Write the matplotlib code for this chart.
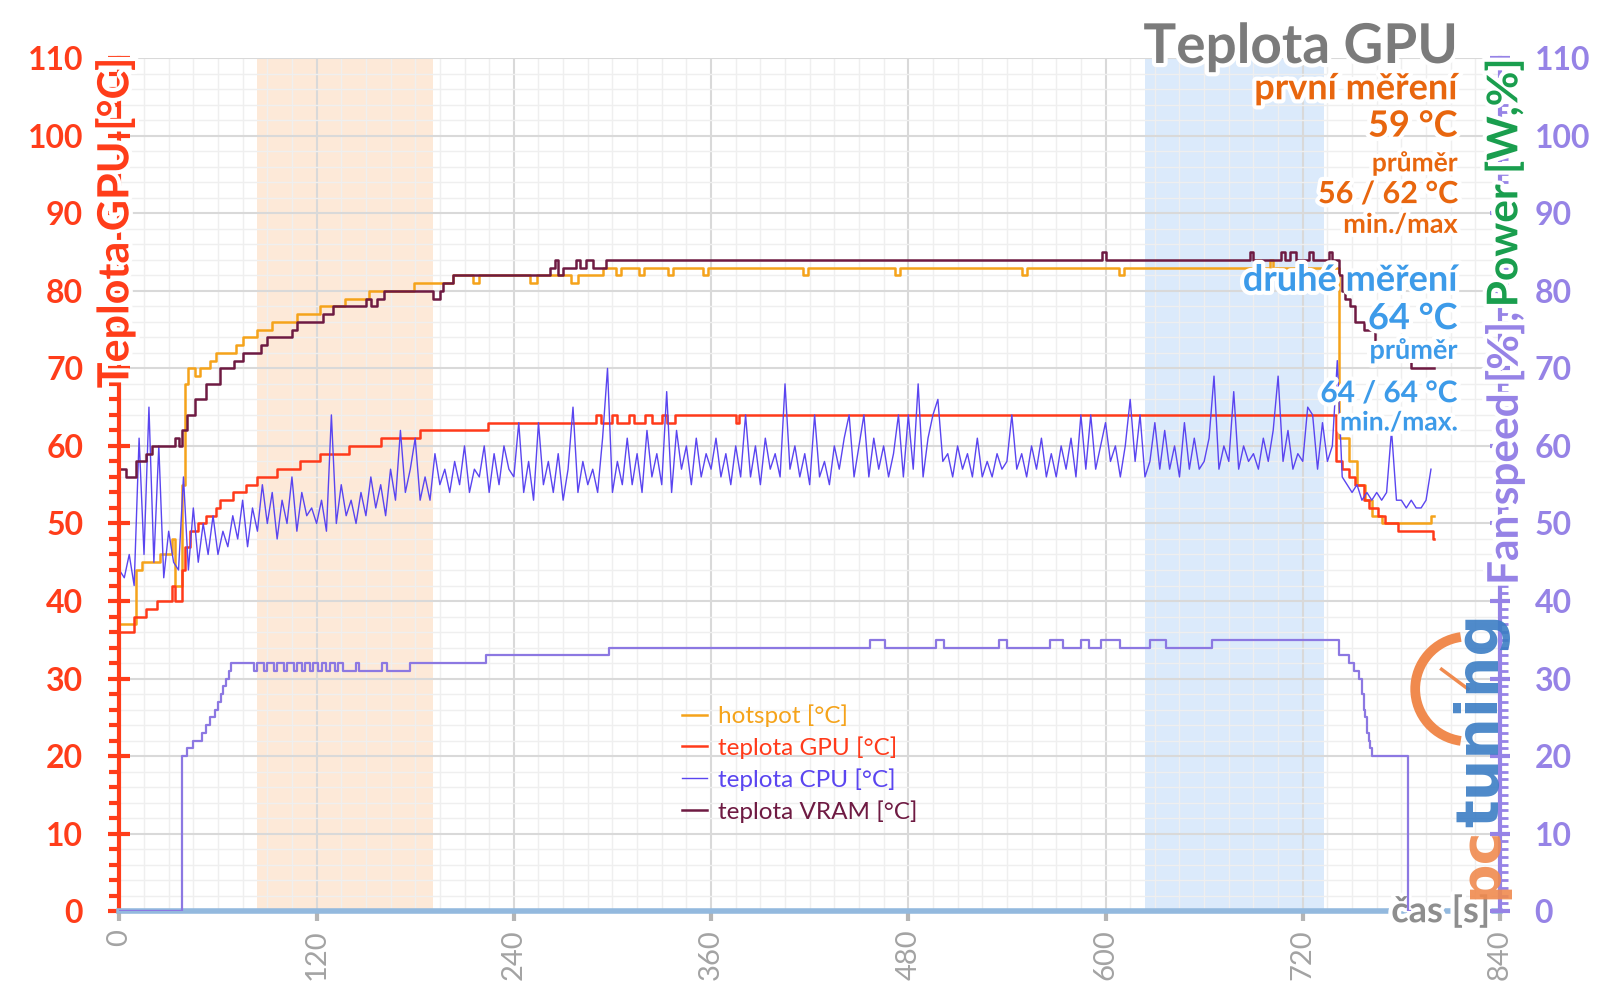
import matplotlib
matplotlib.use("Agg")
import matplotlib.pyplot as plt
import matplotlib.patheffects as pe
from matplotlib.patches import Arc
from matplotlib.ticker import MultipleLocator
import numpy as np

plt.rcParams['font.family'] = ['Lato', 'DejaVu Sans']

# hotspot [°C] - schodovity prubeh (cas zmeny, hodnota)
hot_t = [0, 10, 14, 25, 32, 34, 38, 40, 42, 46, 49, 55, 59, 71, 75, 84, 93, 108, 122, 137,
         152, 179, 203, 215, 219, 250, 254, 275, 279, 294, 302, 305, 316, 319, 334, 337, 355, 358, 416, 419,
         472, 475, 549, 552, 608, 611, 692, 694, 700, 702, 742, 748, 753, 758, 762, 768, 798, 800]
hot_v = [37, 44, 45, 46, 48, 42, 55, 68, 70, 69, 70, 71, 72, 73, 74, 75, 76, 77, 78, 79,
         80, 81, 82, 81, 82, 81, 82, 81, 82, 83, 82, 83, 82, 83, 82, 83, 82, 83, 82, 83,
         82, 83, 82, 83, 82, 83, 84, 83, 84, 83, 61, 58, 55, 53, 51, 50, 51, 51]

# teplota GPU [°C]
gpu_t = [0, 9, 16, 23, 32, 34, 38, 40, 43, 48, 53, 59, 61, 69, 77, 84, 96, 110, 122, 140,
         159, 183, 224, 290, 293, 300, 303, 310, 313, 320, 324, 330, 333, 338, 375, 377, 740, 744, 748, 752,
         757, 760, 766, 770, 778, 799, 800]
gpu_v = [36, 38, 39, 40, 42, 40, 44, 47, 49, 50, 51, 52, 53, 54, 55, 56, 57, 58, 59, 60,
         61, 62, 63, 64, 63, 64, 63, 64, 63, 64, 63, 64, 63, 64, 63, 64, 58, 57, 56, 55,
         53, 52, 51, 50, 49, 48, 48]

# teplota VRAM [°C]
vram_t = [0, 4, 10, 16, 20, 34, 36, 38, 41, 46, 53, 61, 70, 75, 86, 90, 105, 108, 124, 130,
          150, 153, 157, 161, 191, 195, 197, 203, 262, 265, 267, 270, 278, 280, 284, 288, 296, 598, 600, 688,
          690, 707, 709, 712, 716, 724, 726, 736, 738, 742, 744, 746, 749, 752, 757, 764, 770, 784, 786, 800]
vram_v = [57, 56, 58, 59, 60, 61, 60, 62, 64, 66, 68, 70, 71, 72, 73, 74, 75, 76, 77, 78,
          79, 78, 79, 80, 79, 80, 81, 82, 83, 84, 82, 83, 84, 83, 84, 83, 84, 85, 84, 85,
          84, 85, 84, 85, 84, 85, 84, 85, 84, 82, 80, 79, 78, 76, 75, 73, 72, 71, 70, 70]

# teplota CPU [°C] - odecteno po 3 s
cpu_t = np.arange(0, 800, 3)
cpu_v = [44, 43, 46, 42, 61, 46, 65, 45, 60, 43, 49, 45, 44, 56, 44, 52, 45, 50, 46, 51,
         46, 49, 47, 51, 48, 53, 47, 52, 49, 55, 50, 54, 48, 53, 50, 56, 49, 54, 51, 52,
         50, 53, 49, 64, 50, 55, 51, 53, 50, 54, 51, 56, 52, 55, 51, 57, 53, 62, 54, 57,
         61, 53, 56, 53, 59, 55, 57, 54, 58, 55, 60, 54, 57, 56, 60, 54, 59, 55, 60, 57,
         56, 63, 54, 58, 53, 63, 55, 58, 54, 59, 53, 57, 65, 54, 58, 55, 57, 54, 61, 70,
         54, 58, 55, 61, 55, 59, 54, 62, 56, 59, 55, 67, 54, 62, 57, 60, 55, 61, 56, 59,
         57, 61, 56, 59, 55, 60, 56, 64, 56, 60, 55, 61, 57, 59, 56, 68, 57, 60, 56, 59,
         55, 64, 56, 58, 55, 60, 57, 61, 64, 56, 60, 64, 56, 61, 57, 60, 56, 59, 64, 56,
         64, 57, 68, 56, 61, 64, 66, 58, 59, 56, 60, 57, 59, 56, 61, 56, 58, 56, 59, 57,
         58, 64, 57, 59, 56, 60, 57, 61, 56, 59, 56, 60, 57, 61, 56, 64, 57, 64, 57, 60,
         63, 58, 60, 56, 60, 66, 58, 64, 56, 58, 63, 57, 62, 57, 60, 56, 63, 57, 61, 57,
         58, 61, 69, 57, 60, 58, 67, 57, 60, 58, 59, 57, 61, 58, 62, 69, 58, 62, 57, 59,
         58, 65, 64, 57, 63, 58, 60, 71, 56, 55, 54, 55, 53, 54, 53, 54, 53, 54, 62, 53,
         53, 52, 53, 52, 52, 53, 57]

# Fan speed [%]
fan_t = [0, 38, 41, 45, 50, 53, 55, 58, 60, 62, 63, 65, 67, 68, 82, 84, 88, 90, 94, 96,
         100, 102, 106, 108, 111, 113, 116, 118, 121, 123, 126, 128, 131, 133, 136, 144, 146, 160, 163, 177,
         179, 223, 298, 457, 466, 497, 502, 535, 540, 566, 574, 585, 590, 597, 609, 627, 637, 665, 742, 748,
         751, 754, 756, 757, 758, 759, 760, 761, 762, 784, 785]
fan_v = [0, 20, 21, 22, 23, 24, 25, 26, 27, 28, 29, 30, 31, 32, 31, 32, 31, 32, 31, 32,
         31, 32, 31, 32, 31, 32, 31, 32, 31, 32, 31, 32, 31, 32, 31, 32, 31, 32, 31, 32,
         32, 33, 34, 35, 34, 35, 34, 35, 34, 35, 34, 35, 34, 35, 34, 35, 34, 35, 33, 32,
         31, 30, 28, 26, 25, 23, 22, 21, 20, 0, 0]

# zvyraznene useky mereni
prvni = (84, 191)
druhe = (624, 733)

x_ticks = [0, 120, 240, 360, 480, 600, 720, 840]

RED = '#ff3d1a'
PURPLE = '#9683e6'
glow = [pe.withStroke(linewidth=6, foreground='white')]

fig = plt.figure(figsize=(16, 10.08), dpi=100)
ax = fig.add_axes([0.0746, 0.096, 0.8629, 0.8463])

ax.axvspan(*prvni, color='#fde9d8', lw=0, zorder=0.1)
ax.axvspan(*druhe, color='#dbeafb', lw=0, zorder=0.1)

ax.plot(hot_t, hot_v, drawstyle='steps-post', color='#f5a31a', lw=1.8, label='hotspot [°C]')
ax.plot(gpu_t, gpu_v, drawstyle='steps-post', color='#ff3a1a', lw=1.8, label='teplota GPU [°C]')
ax.plot(cpu_t, cpu_v, color='#5a45f0', lw=1.0, label='teplota CPU [°C]')
ax.plot(vram_t, vram_v, drawstyle='steps-post', color='#6e1a42', lw=1.8, label='teplota VRAM [°C]')

ax.set_xlim(0, 840)
ax.set_ylim(0, 110)
ax.set_xticks(x_ticks)
ax.xaxis.set_minor_locator(MultipleLocator(15))
ax.yaxis.set_major_locator(MultipleLocator(10))
ax.yaxis.set_minor_locator(MultipleLocator(2))
ax.set_axisbelow(True)
ax.grid(which='major', color='#d9d9d9', lw=1.5)
ax.grid(which='minor', color='#efefef', lw=1.0)

for s in ['top', 'right']:
    ax.spines[s].set_visible(False)
ax.spines['left'].set_color(RED)
ax.spines['left'].set_linewidth(3)
ax.spines['bottom'].set_color('#93b9de')
ax.spines['bottom'].set_linewidth(4)

ax.tick_params(axis='y', which='major', direction='inout', length=16, width=3, color=RED,
               labelcolor=RED, labelsize=23, pad=18)
ax.tick_params(axis='y', which='minor', direction='out', length=7, width=3, color=RED)
for lab in ax.get_yticklabels():
    lab.set_fontweight('bold')
ax.tick_params(axis='x', which='major', direction='out', length=7, width=3, color='#b5b5b5',
               labelcolor='#a3a3a3', labelsize=21, labelrotation=90, pad=6)
ax.tick_params(axis='x', which='minor', length=0)

leg = ax.legend(loc='upper left', bbox_to_anchor=(0.392, 0.268), frameon=False, fontsize=17.5,
                handlelength=1.0, handletextpad=0.45, labelspacing=0.38, labelcolor='linecolor')

ax.text(834, 0, 'čas [s]', ha='right', va='center', color='#8e8e8e', fontsize=26,
        fontweight='bold', path_effects=glow, zorder=10)

# prava osa - otacky ventilatoru
ax2 = ax.twinx()
ax2.plot(fan_t, fan_v, drawstyle='steps-post', color='#8c78e2', lw=1.6)
ax2.set_ylim(0, 110)
ax2.yaxis.set_major_locator(MultipleLocator(10))
ax2.yaxis.set_minor_locator(MultipleLocator(1))
for s in ['top', 'left', 'bottom']:
    ax2.spines[s].set_visible(False)
ax2.spines['right'].set_color(PURPLE)
ax2.spines['right'].set_linewidth(3)
ax2.tick_params(axis='y', which='major', direction='inout', length=14, width=3, color=PURPLE,
                labelcolor=PURPLE, labelsize=23, pad=18)
ax2.tick_params(axis='y', which='minor', direction='out', length=6, width=2, color=PURPLE)
for lab in ax2.get_yticklabels():
    lab.set_fontweight('bold')

# logo
fig.add_artist(Arc((0.9175, 0.3165), 0.066, 0.104, theta1=95, theta2=265,
                   transform=fig.transFigure, color='#f08a4e', lw=7))
fig.add_artist(plt.Line2D([0.9175, 0.901], [0.3165, 0.336], transform=fig.transFigure,
                          color='#f08a4e', lw=2.5))
l_txt = fig.text(0.926, 0.108, 'pc', rotation=90, ha='center', va='bottom', color='#f08a4e',
                 fontsize=40, fontweight='bold', family='DejaVu Sans', alpha=0.9)

# popisky os
fig.text(0.0718, 0.9423, 'Teplota GPU [°C]', rotation=90, ha='center', va='top', color=RED,
         fontsize=31, fontweight='bold', path_effects=glow)
p_txt = fig.text(0.9405, 0.9423, 'Power [W,%]', rotation=90, ha='center', va='top',
                 color='#1a9e4e', fontsize=30.5, fontweight='bold', path_effects=glow)
fig.canvas.draw()
bb = p_txt.get_window_extent()
fig.text(0.9405, bb.y0 / fig.bbox.height - 0.004, 'Fan speed [%],', rotation=90, ha='center',
         va='top', color=PURPLE, fontsize=30.5, fontweight='bold', path_effects=glow)
bb = l_txt.get_window_extent()
fig.text(0.926, bb.y1 / fig.bbox.height, 'tuning', rotation=90, ha='center', va='bottom',
         color='#3b7dc4', fontsize=42, fontweight='bold', family='DejaVu Sans', alpha=0.9)

# nadpis a souhrn
ORANGE = '#e8660e'
BLUE = '#3d9be9'
tx = 0.911
fig.text(tx, 0.9375, 'Teplota GPU', ha='right', va='baseline', color='#7b7b7b', fontsize=39.5,
         fontweight='bold', path_effects=glow)
popisky = [
    ('první měření', 0.9015, 26, ORANGE),
    ('59 °C', 0.8645, 26, ORANGE),
    ('průměr', 0.8300, 19, ORANGE),
    ('56 / 62 °C', 0.7985, 22, ORANGE),
    ('min./max', 0.7690, 19.5, ORANGE),
    ('druhé měření', 0.7115, 26, BLUE),
    ('64 °C', 0.6735, 26, BLUE),
    ('průměr', 0.6440, 19.5, BLUE),
    ('64 / 64 °C', 0.6010, 21.5, BLUE),
    ('min./max.', 0.5730, 19, BLUE),
]
for txt, y, size, col in popisky:
    fig.text(tx, y, txt, ha='right', va='baseline', color=col, fontsize=size,
             fontweight='bold', path_effects=glow)

fig.savefig('out.png', dpi=100)
